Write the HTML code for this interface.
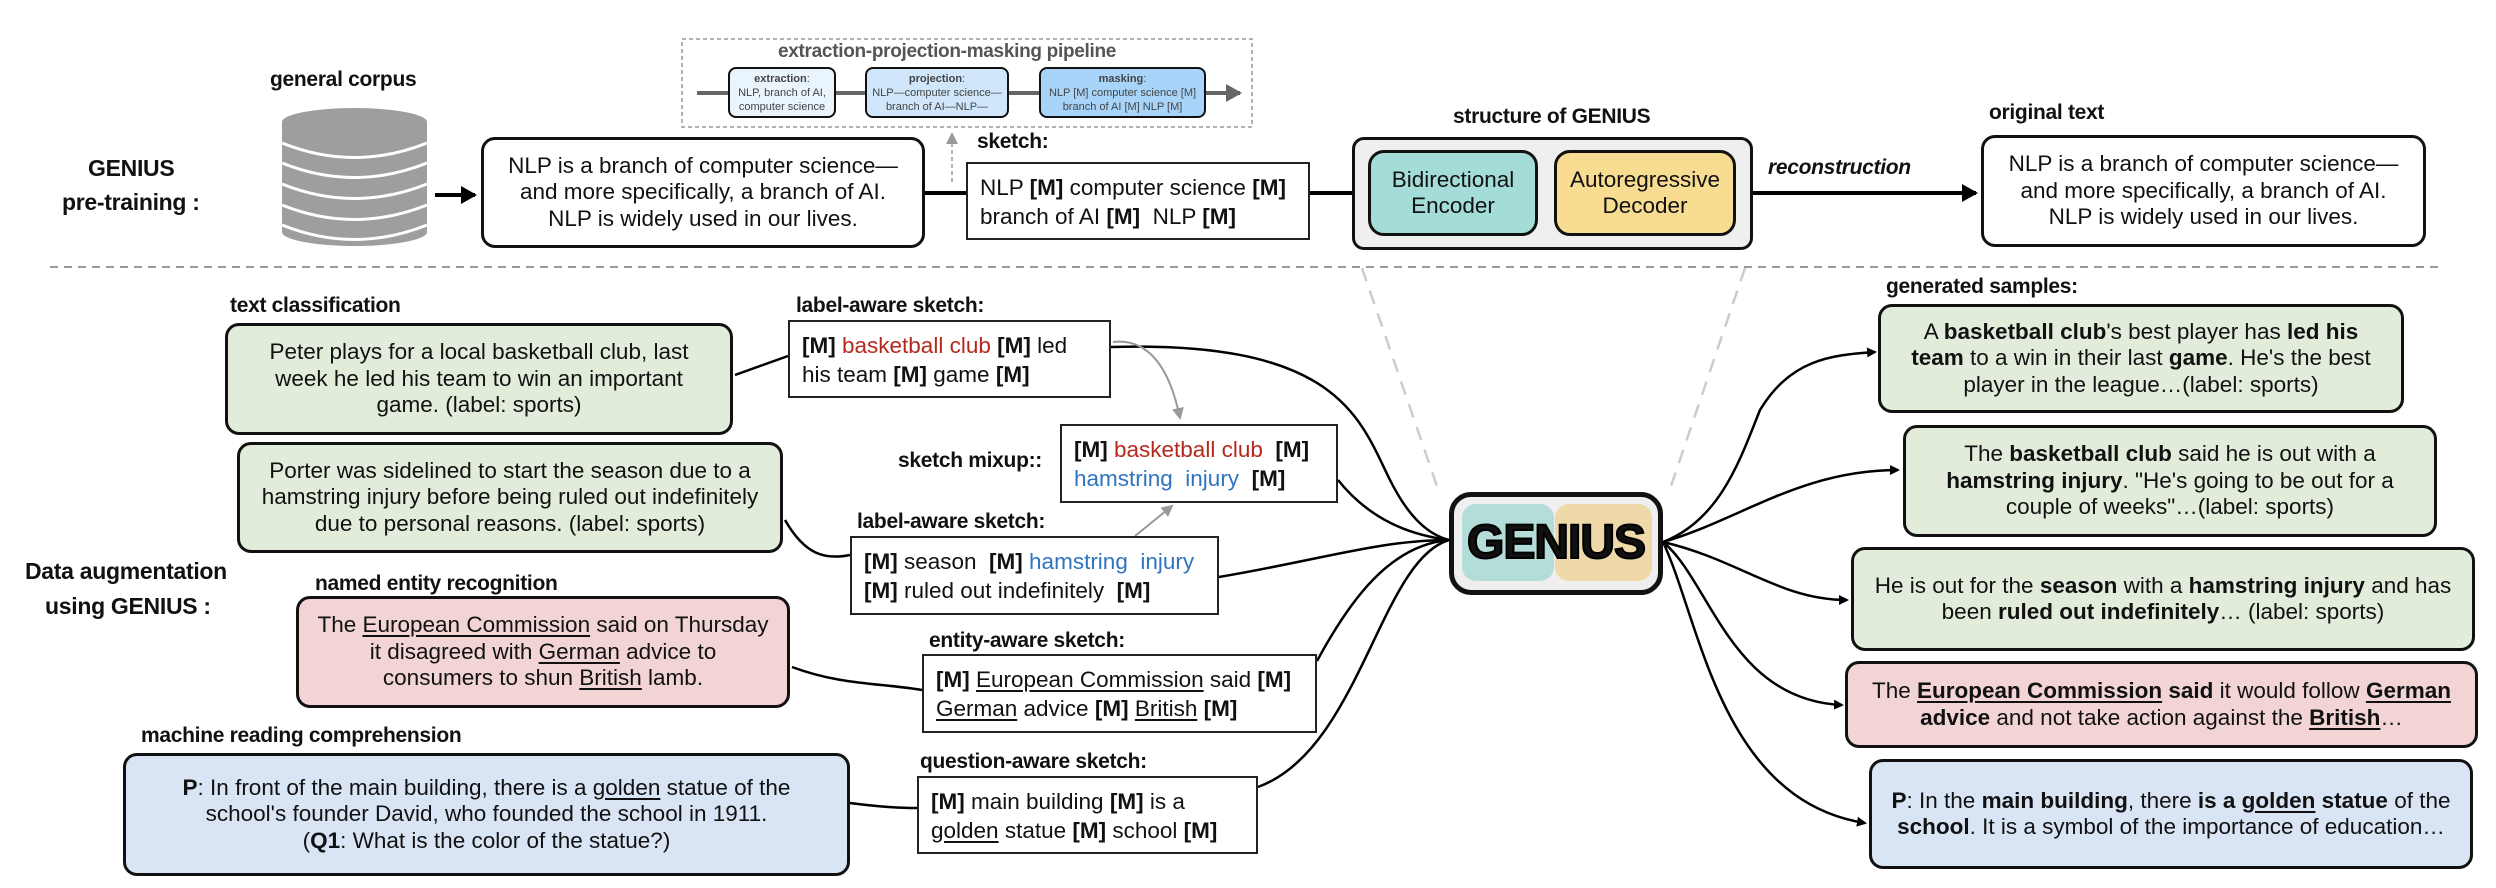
<!DOCTYPE html>
<html><head><meta charset="utf-8">
<style>
*{margin:0;padding:0;box-sizing:border-box}
body{width:2496px;height:888px;background:#fff;position:relative;overflow:hidden;font-family:"Liberation Sans",Arial,sans-serif;color:#111}
.a{position:absolute}
.lbl{position:absolute;font-weight:bold;font-size:21px;white-space:nowrap;letter-spacing:-0.3px}
.box{position:absolute;display:flex;align-items:center;justify-content:center;text-align:center;font-size:22.5px;line-height:26.5px;border:3.5px solid #111;border-radius:14px;white-space:nowrap}
.sk{position:absolute;border:2px solid #222;background:#fff;font-size:22.5px;line-height:29px;padding:9px 0 0 12px;white-space:nowrap}
.r{color:#b5291c}.bl{color:#2f74c0}
u{text-decoration:underline;text-underline-offset:3px}
.pb{position:absolute;border:2px solid #111;border-radius:8px;font-size:11px;line-height:14px;text-align:center;color:#444;display:flex;align-items:center;justify-content:center}
</style></head><body>
<svg class="a" style="left:0;top:0" width="2496" height="888">
<defs>
<marker id="ar" markerWidth="10" markerHeight="10" refX="8" refY="5" orient="auto" markerUnits="userSpaceOnUse"><path d="M0,0 L10,5 L0,10 z" fill="#000"/></marker>
<marker id="ag" markerWidth="12" markerHeight="12" refX="10" refY="6" orient="auto" markerUnits="userSpaceOnUse"><path d="M0,0 L12,6 L0,12 z" fill="#999"/></marker>
<marker id="ab" markerWidth="18" markerHeight="18" refX="14" refY="9" orient="auto" markerUnits="userSpaceOnUse"><path d="M0,0 L16,9 L0,18 z" fill="#000"/></marker>
<marker id="ap" markerWidth="18" markerHeight="18" refX="14" refY="9" orient="auto" markerUnits="userSpaceOnUse"><path d="M0,0 L16,9 L0,18 z" fill="#666"/></marker>
</defs>
<line x1="50" y1="267" x2="2440" y2="267" stroke="#999" stroke-width="2" stroke-dasharray="8,6"/>
<line x1="1362" y1="268" x2="1440" y2="495" stroke="#ccc" stroke-width="2.5" stroke-dasharray="14,10"/>
<line x1="1745" y1="268" x2="1668" y2="495" stroke="#ccc" stroke-width="2.5" stroke-dasharray="14,10"/>
<g fill="#9e9e9e">
<rect x="282" y="122" width="145" height="110"/>
<ellipse cx="354.5" cy="232" rx="72.5" ry="14"/>
<ellipse cx="354.5" cy="122" rx="72.5" ry="14"/>
</g>
<g fill="none" stroke="#fff" stroke-width="3">
<path d="M282,143 Q354.5,172 427,143"/><path d="M282,163 Q354.5,192 427,163"/>
<path d="M282,184 Q354.5,213 427,184"/><path d="M282,205 Q354.5,234 427,205"/>
<path d="M282,225 Q354.5,254 427,225"/>
</g>
<line x1="435" y1="195" x2="475" y2="195" stroke="#000" stroke-width="4" marker-end="url(#ab)"/>
<line x1="925" y1="193" x2="966" y2="193" stroke="#000" stroke-width="4"/>
<line x1="1310" y1="193" x2="1368" y2="193" stroke="#000" stroke-width="4"/>
<line x1="1753" y1="193" x2="1976" y2="193" stroke="#000" stroke-width="4" marker-end="url(#ab)"/>
<line x1="952" y1="182" x2="952" y2="134" stroke="#999" stroke-width="1.5" stroke-dasharray="4,3" marker-end="url(#ag)"/>
<rect x="682" y="39" width="570" height="88" fill="none" stroke="#999" stroke-width="1.5" stroke-dasharray="4,3"/>
<line x1="697" y1="93" x2="1240" y2="93" stroke="#666" stroke-width="4" marker-end="url(#ap)"/>
<g fill="none" stroke="#000" stroke-width="2.5">
<path d="M735,375 L788,356"/>
<path d="M785,520 C805,555 825,560 850,555"/>
<path d="M792,667 C840,685 880,683 922,690"/>
<path d="M850,803 C880,807 900,808 917,808"/>
<path d="M1111,347 C1340,340 1360,420 1390,480 C1410,520 1430,535 1449,540"/>
<path d="M1338,480 C1370,520 1410,535 1449,540"/>
<path d="M1219,577 C1320,560 1380,540 1449,540"/>
<path d="M1317,661 C1350,600 1390,545 1449,540"/>
<path d="M1258,787 C1360,750 1380,560 1449,540"/>
<path d="M1663,542 C1720,520 1740,460 1760,410 C1790,360 1830,355 1875,352" marker-end="url(#ar)"/>
<path d="M1663,542 C1740,520 1800,470 1898,470" marker-end="url(#ar)"/>
<path d="M1663,542 C1740,560 1780,600 1847,600" marker-end="url(#ar)"/>
<path d="M1663,542 C1710,580 1730,700 1842,705" marker-end="url(#ar)"/>
<path d="M1663,542 C1700,620 1720,800 1865,823" marker-end="url(#ar)"/>
</g>
<g fill="none" stroke="#999" stroke-width="2">
<path d="M1113,342 C1150,338 1170,370 1180,418" marker-end="url(#ag)"/>
<path d="M1135,536 L1172,506" marker-end="url(#ag)"/>
</g>
</svg>

<div class="lbl" style="left:88px;top:155px;font-size:23px">GENIUS</div>
<div class="lbl" style="left:62px;top:189px;font-size:23px">pre-training :</div>
<div class="lbl" style="left:270px;top:68px">general corpus</div>
<div class="box" style="left:481px;top:137px;width:444px;height:111px;background:#fff"><div>NLP is a branch of computer science—<br>and more specifically, a branch of AI.<br>NLP is widely used in our lives.</div></div>
<div class="lbl" style="left:977px;top:130px">sketch:</div>
<div class="sk" style="left:966px;top:162px;width:344px;height:78px">NLP <b>[M]</b> computer science <b>[M]</b><br>branch of AI <b>[M]</b> &nbsp;NLP <b>[M]</b></div>

<div class="lbl" style="left:778px;top:41px;font-size:19px;color:#555">extraction-projection-masking pipeline</div>
<div class="pb" style="left:728px;top:67px;width:108px;height:51px;background:#eaf4fd"><div><b>extraction</b>:<br>NLP, branch of AI,<br>computer science</div></div>
<div class="pb" style="left:865px;top:67px;width:144px;height:51px;background:#cfe6fb"><div><b>projection</b>:<br>NLP—computer science—<br>branch of AI—NLP—</div></div>
<div class="pb" style="left:1039px;top:67px;width:167px;height:51px;background:#a8d4fa"><div><b>masking</b>:<br>NLP [M] computer science [M]<br>branch of AI [M] NLP [M]</div></div>

<div class="lbl" style="left:1453px;top:105px">structure of GENIUS</div>
<div class="box" style="left:1352px;top:137px;width:401px;height:113px;background:#efefef;border-width:3px;border-radius:12px"></div>
<div class="box" style="left:1368px;top:150px;width:170px;height:86px;background:#a4ddd7;border-radius:16px;border-width:3px"><div>Bidirectional<br>Encoder</div></div>
<div class="box" style="left:1554px;top:150px;width:182px;height:86px;background:#f8dc92;border-radius:16px;border-width:3px"><div>Autoregressive<br>Decoder</div></div>
<div class="lbl" style="left:1768px;top:156px;font-style:italic">reconstruction</div>
<div class="lbl" style="left:1989px;top:101px">original text</div>
<div class="box" style="left:1981px;top:135px;width:445px;height:112px;background:#fff"><div>NLP is a branch of computer science—<br>and more specifically, a branch of AI.<br>NLP is widely used in our lives.</div></div>

<div class="lbl" style="left:25px;top:558px;font-size:23px">Data augmentation</div>
<div class="lbl" style="left:45px;top:593px;font-size:23px">using GENIUS :</div>

<div class="lbl" style="left:230px;top:294px">text classification</div>
<div class="box" style="left:225px;top:323px;width:508px;height:112px;background:#e1ecda"><div>Peter plays for a local basketball club, last<br>week he led his team to win an important<br>game. (label: sports)</div></div>
<div class="lbl" style="left:796px;top:294px">label-aware sketch:</div>
<div class="sk" style="left:788px;top:320px;width:323px;height:78px"><b>[M]</b> <span class="r">basketball club</span> <b>[M]</b> led<br>his team <b>[M]</b> game <b>[M]</b></div>

<div class="box" style="left:237px;top:442px;width:546px;height:111px;background:#e1ecda"><div>Porter was sidelined to start the season due to a<br>hamstring injury before being ruled out indefinitely<br>due to personal reasons. (label: sports)</div></div>
<div class="lbl" style="left:898px;top:449px">sketch mixup::</div>
<div class="sk" style="left:1060px;top:424px;width:278px;height:79px"><b>[M]</b> <span class="r">basketball club</span> &nbsp;<b>[M]</b><br><span class="bl">hamstring &nbsp;injury</span> &nbsp;<b>[M]</b></div>
<div class="lbl" style="left:857px;top:510px">label-aware sketch:</div>
<div class="sk" style="left:850px;top:536px;width:369px;height:79px"><b>[M]</b> season &nbsp;<b>[M]</b> <span class="bl">hamstring &nbsp;injury</span><br><b>[M]</b> ruled out indefinitely &nbsp;<b>[M]</b></div>

<div class="lbl" style="left:315px;top:572px">named entity recognition</div>
<div class="box" style="left:296px;top:596px;width:494px;height:112px;background:#f2d4d5"><div>The <u>European Commission</u> said on Thursday<br>it disagreed with <u>German</u> advice to<br>consumers to shun <u>British</u> lamb.</div></div>
<div class="lbl" style="left:929px;top:629px">entity-aware sketch:</div>
<div class="sk" style="left:922px;top:654px;width:395px;height:79px"><b>[M]</b> <u>European Commission</u> said <b>[M]</b><br><u>German</u> advice <b>[M]</b> <u>British</u> <b>[M]</b></div>

<div class="lbl" style="left:141px;top:724px">machine reading comprehension</div>
<div class="box" style="left:123px;top:753px;width:727px;height:123px;background:#d9e5f4"><div><b>P</b>: In front of the main building, there is a <u>golden</u> statue of the<br>school's founder David, who founded the school in 1911.<br>(<b>Q1</b>: What is the color of the statue?)</div></div>
<div class="lbl" style="left:920px;top:750px">question-aware sketch:</div>
<div class="sk" style="left:917px;top:776px;width:341px;height:78px"><b>[M]</b> main building <b>[M]</b> is a<br><u>golden</u> statue <b>[M]</b> school <b>[M]</b></div>

<div class="box" style="left:1449px;top:492px;width:214px;height:103px;background:#efefef;border-width:5px;border-radius:22px"></div>
<div class="a" style="left:1462px;top:504px;width:92px;height:77px;background:#b4dcd9;border-radius:14px"></div>
<div class="a" style="left:1555px;top:504px;width:97px;height:77px;background:#efd9a8;border-radius:14px"></div>
<div class="a" style="left:1449px;top:508px;width:214px;text-align:center;font-weight:bold;font-size:48px;line-height:70px;letter-spacing:-1px;-webkit-text-stroke:2px #000">GENIUS</div>

<div class="lbl" style="left:1886px;top:275px">generated samples:</div>
<div class="box" style="left:1878px;top:304px;width:526px;height:109px;background:#e1ecda"><div>A <b>basketball club</b>'s best player has <b>led his</b><br><b>team</b> to a win in their last <b>game</b>. He's the best<br>player in the league…(label: sports)</div></div>
<div class="box" style="left:1903px;top:425px;width:534px;height:112px;background:#e1ecda"><div>The <b>basketball club</b> said he is out with a<br><b>hamstring injury</b>. "He's going to be out for a<br>couple of weeks"…(label: sports)</div></div>
<div class="box" style="left:1851px;top:547px;width:624px;height:104px;background:#e1ecda"><div>He is out for the <b>season</b> with a <b>hamstring injury</b> and has<br>been <b>ruled out indefinitely</b>… (label: sports)</div></div>
<div class="box" style="left:1845px;top:661px;width:633px;height:87px;background:#f2d4d5"><div>The <b><u>European Commission</u> said</b> it would follow <b><u>German</u></b><br><b>advice</b> and not take action against the <b><u>British</u></b>…</div></div>
<div class="box" style="left:1869px;top:759px;width:604px;height:110px;background:#d9e5f4"><div><b>P</b>: In the <b>main building</b>, there <b>is a <u>golden</u> statue</b> of the<br><b>school</b>. It is a symbol of the importance of education…</div></div>
</body></html>
